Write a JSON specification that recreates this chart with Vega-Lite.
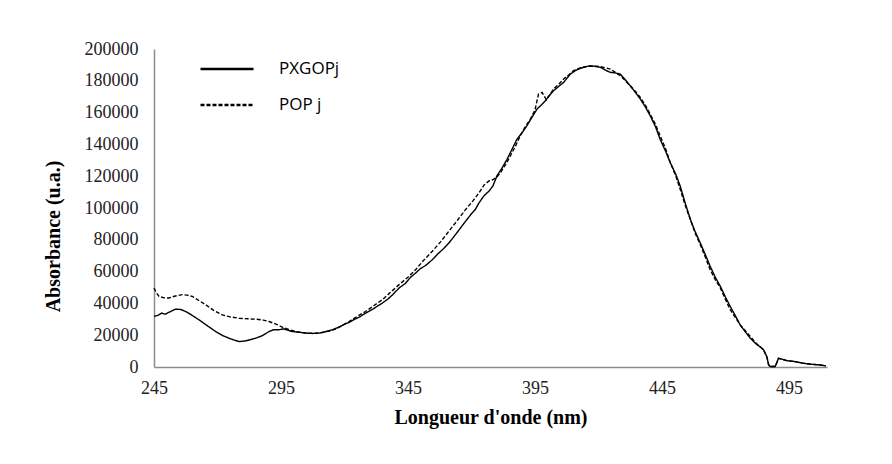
{
  "$schema": "https://vega.github.io/schema/vega-lite/v6.json",
  "width": 673,
  "height": 318,
  "autosize": "none",
  "padding": {"left": 154, "top": 49, "right": 65, "bottom": 97},
  "background": "white",
  "config": {"view": {"stroke": null}},
  "data": {"values": [
    {"w":245,"a":49700,"s":"POP j"},{"w":246,"a":46500,"s":"POP j"},{"w":247,"a":44400,"s":"POP j"},{"w":249,"a":43500,"s":"POP j"},{"w":250.9,"a":43400,"s":"POP j"},{"w":253,"a":44500,"s":"POP j"},{"w":256.2,"a":45500,"s":"POP j"},{"w":258,"a":45200,"s":"POP j"},{"w":260.1,"a":44400,"s":"POP j"},{"w":262.5,"a":42000,"s":"POP j"},{"w":265.3,"a":39200,"s":"POP j"},{"w":268.5,"a":35600,"s":"POP j"},{"w":271.9,"a":32800,"s":"POP j"},{"w":275,"a":31500,"s":"POP j"},{"w":278.5,"a":30700,"s":"POP j"},{"w":282,"a":30300,"s":"POP j"},{"w":285,"a":30100,"s":"POP j"},{"w":288,"a":29500,"s":"POP j"},{"w":290.3,"a":28600,"s":"POP j"},{"w":293,"a":27000,"s":"POP j"},{"w":295.5,"a":25100,"s":"POP j"},{"w":298,"a":23600,"s":"POP j"},{"w":300.8,"a":22300,"s":"POP j"},{"w":303.5,"a":21600,"s":"POP j"},{"w":306,"a":21300,"s":"POP j"},{"w":309,"a":21300,"s":"POP j"},{"w":311.3,"a":21700,"s":"POP j"},{"w":314,"a":22600,"s":"POP j"},{"w":316.5,"a":23800,"s":"POP j"},{"w":319,"a":26000,"s":"POP j"},{"w":321.8,"a":28600,"s":"POP j"},{"w":325,"a":31800,"s":"POP j"},{"w":328.3,"a":34900,"s":"POP j"},{"w":331.5,"a":38500,"s":"POP j"},{"w":334.9,"a":42300,"s":"POP j"},{"w":338,"a":46800,"s":"POP j"},{"w":341.5,"a":51800,"s":"POP j"},{"w":345,"a":56500,"s":"POP j"},{"w":348,"a":61200,"s":"POP j"},{"w":351,"a":66800,"s":"POP j"},{"w":354.6,"a":72800,"s":"POP j"},{"w":358,"a":79000,"s":"POP j"},{"w":361.1,"a":85400,"s":"POP j"},{"w":364.5,"a":92300,"s":"POP j"},{"w":367.7,"a":99100,"s":"POP j"},{"w":370.5,"a":104300,"s":"POP j"},{"w":373,"a":109600,"s":"POP j"},{"w":375,"a":114500,"s":"POP j"},{"w":376.9,"a":117000,"s":"POP j"},{"w":378.7,"a":118000,"s":"POP j"},{"w":380,"a":119500,"s":"POP j"},{"w":381.4,"a":122200,"s":"POP j"},{"w":383.5,"a":127500,"s":"POP j"},{"w":385.3,"a":132700,"s":"POP j"},{"w":387.5,"a":139500,"s":"POP j"},{"w":389.2,"a":145400,"s":"POP j"},{"w":391,"a":150500,"s":"POP j"},{"w":393.2,"a":155900,"s":"POP j"},{"w":395,"a":161500,"s":"POP j"},{"w":396.4,"a":171600,"s":"POP j"},{"w":397.8,"a":172700,"s":"POP j"},{"w":399.5,"a":168100,"s":"POP j"},{"w":401,"a":171500,"s":"POP j"},{"w":402.3,"a":174800,"s":"POP j"},{"w":404.5,"a":178000,"s":"POP j"},{"w":406.3,"a":181100,"s":"POP j"},{"w":408.5,"a":184000,"s":"POP j"},{"w":410.2,"a":186400,"s":"POP j"},{"w":413,"a":188200,"s":"POP j"},{"w":415.5,"a":189100,"s":"POP j"},{"w":418,"a":189200,"s":"POP j"},{"w":420.7,"a":188900,"s":"POP j"},{"w":422.5,"a":188300,"s":"POP j"},{"w":424.7,"a":187400,"s":"POP j"},{"w":426.5,"a":185500,"s":"POP j"},{"w":428.6,"a":183200,"s":"POP j"},{"w":430.5,"a":180200,"s":"POP j"},{"w":432.5,"a":176900,"s":"POP j"},{"w":434.5,"a":173500,"s":"POP j"},{"w":436.5,"a":169500,"s":"POP j"},{"w":438.5,"a":164500,"s":"POP j"},{"w":440.4,"a":159000,"s":"POP j"},{"w":442.5,"a":152500,"s":"POP j"},{"w":444.3,"a":145400,"s":"POP j"},{"w":446.5,"a":137000,"s":"POP j"},{"w":448.3,"a":128500,"s":"POP j"},{"w":450.5,"a":120000,"s":"POP j"},{"w":452.2,"a":111700,"s":"POP j"},{"w":454,"a":102500,"s":"POP j"},{"w":456.2,"a":92800,"s":"POP j"},{"w":458,"a":84500,"s":"POP j"},{"w":460.1,"a":77000,"s":"POP j"},{"w":462,"a":69500,"s":"POP j"},{"w":464,"a":61200,"s":"POP j"},{"w":466,"a":55000,"s":"POP j"},{"w":468,"a":49700,"s":"POP j"},{"w":470,"a":42500,"s":"POP j"},{"w":471.9,"a":36000,"s":"POP j"},{"w":474,"a":31000,"s":"POP j"},{"w":475.8,"a":26500,"s":"POP j"},{"w":478,"a":22500,"s":"POP j"},{"w":479.8,"a":19200,"s":"POP j"},{"w":482,"a":15000,"s":"POP j"},{"w":484,"a":12300,"s":"POP j"},{"w":485,"a":10800,"s":"POP j"},{"w":486.3,"a":6500,"s":"POP j"},{"w":487,"a":1500,"s":"POP j"},{"w":487.6,"a":300,"s":"POP j"},{"w":489.6,"a":300,"s":"POP j"},{"w":490.3,"a":3000,"s":"POP j"},{"w":490.9,"a":5500,"s":"POP j"},{"w":492.5,"a":4800,"s":"POP j"},{"w":494.2,"a":4000,"s":"POP j"},{"w":497,"a":3500,"s":"POP j"},{"w":500.8,"a":2300,"s":"POP j"},{"w":504,"a":1700,"s":"POP j"},{"w":507.3,"a":1300,"s":"POP j"},{"w":509.5,"a":700,"s":"POP j"},
    {"w":245,"a":31800,"s":"PXGOPj"},{"w":246.5,"a":32500,"s":"PXGOPj"},{"w":248,"a":33900,"s":"PXGOPj"},{"w":249.5,"a":33200,"s":"PXGOPj"},{"w":251,"a":34500,"s":"PXGOPj"},{"w":253.5,"a":36400,"s":"PXGOPj"},{"w":255.5,"a":36200,"s":"PXGOPj"},{"w":257.5,"a":34900,"s":"PXGOPj"},{"w":260,"a":32500,"s":"PXGOPj"},{"w":262.7,"a":29700,"s":"PXGOPj"},{"w":265.5,"a":26500,"s":"PXGOPj"},{"w":269.3,"a":22300,"s":"PXGOPj"},{"w":272,"a":19800,"s":"PXGOPj"},{"w":274.5,"a":18100,"s":"PXGOPj"},{"w":277,"a":16700,"s":"PXGOPj"},{"w":278.5,"a":16000,"s":"PXGOPj"},{"w":281,"a":16400,"s":"PXGOPj"},{"w":283,"a":17200,"s":"PXGOPj"},{"w":285,"a":18100,"s":"PXGOPj"},{"w":287.5,"a":19600,"s":"PXGOPj"},{"w":290.3,"a":22300,"s":"PXGOPj"},{"w":292,"a":23400,"s":"PXGOPj"},{"w":294.2,"a":23400,"s":"PXGOPj"},{"w":296,"a":24000,"s":"PXGOPj"},{"w":297.5,"a":23200,"s":"PXGOPj"},{"w":299.5,"a":22300,"s":"PXGOPj"},{"w":302,"a":21900,"s":"PXGOPj"},{"w":304.7,"a":21300,"s":"PXGOPj"},{"w":307.5,"a":21100,"s":"PXGOPj"},{"w":310,"a":21300,"s":"PXGOPj"},{"w":312.5,"a":22200,"s":"PXGOPj"},{"w":315.2,"a":23400,"s":"PXGOPj"},{"w":318,"a":25200,"s":"PXGOPj"},{"w":320,"a":27000,"s":"PXGOPj"},{"w":321.8,"a":28000,"s":"PXGOPj"},{"w":324,"a":30000,"s":"PXGOPj"},{"w":326,"a":31500,"s":"PXGOPj"},{"w":328.3,"a":33900,"s":"PXGOPj"},{"w":331,"a":36200,"s":"PXGOPj"},{"w":333,"a":38300,"s":"PXGOPj"},{"w":334.9,"a":40200,"s":"PXGOPj"},{"w":337,"a":42600,"s":"PXGOPj"},{"w":339,"a":45500,"s":"PXGOPj"},{"w":341.5,"a":49700,"s":"PXGOPj"},{"w":344,"a":52600,"s":"PXGOPj"},{"w":346,"a":56400,"s":"PXGOPj"},{"w":348,"a":59100,"s":"PXGOPj"},{"w":350,"a":62000,"s":"PXGOPj"},{"w":352,"a":63900,"s":"PXGOPj"},{"w":354.6,"a":67500,"s":"PXGOPj"},{"w":357,"a":71500,"s":"PXGOPj"},{"w":359,"a":74400,"s":"PXGOPj"},{"w":361.1,"a":78000,"s":"PXGOPj"},{"w":363,"a":81800,"s":"PXGOPj"},{"w":365,"a":86000,"s":"PXGOPj"},{"w":367.7,"a":91700,"s":"PXGOPj"},{"w":370,"a":96400,"s":"PXGOPj"},{"w":371.5,"a":99000,"s":"PXGOPj"},{"w":373,"a":103300,"s":"PXGOPj"},{"w":375,"a":107800,"s":"PXGOPj"},{"w":376.9,"a":110600,"s":"PXGOPj"},{"w":378.5,"a":114000,"s":"PXGOPj"},{"w":380,"a":120100,"s":"PXGOPj"},{"w":382,"a":125000,"s":"PXGOPj"},{"w":384,"a":130600,"s":"PXGOPj"},{"w":386,"a":137000,"s":"PXGOPj"},{"w":387.9,"a":143200,"s":"PXGOPj"},{"w":390,"a":147500,"s":"PXGOPj"},{"w":391.8,"a":151700,"s":"PXGOPj"},{"w":394,"a":157500,"s":"PXGOPj"},{"w":395.8,"a":162200,"s":"PXGOPj"},{"w":397.5,"a":164800,"s":"PXGOPj"},{"w":399.1,"a":167400,"s":"PXGOPj"},{"w":400.5,"a":170500,"s":"PXGOPj"},{"w":402.3,"a":173700,"s":"PXGOPj"},{"w":404,"a":176000,"s":"PXGOPj"},{"w":406.3,"a":179000,"s":"PXGOPj"},{"w":408.9,"a":184200,"s":"PXGOPj"},{"w":411,"a":186500,"s":"PXGOPj"},{"w":412.8,"a":187800,"s":"PXGOPj"},{"w":415,"a":188800,"s":"PXGOPj"},{"w":416.8,"a":189500,"s":"PXGOPj"},{"w":419,"a":189000,"s":"PXGOPj"},{"w":420.7,"a":188500,"s":"PXGOPj"},{"w":423,"a":186500,"s":"PXGOPj"},{"w":424.7,"a":185300,"s":"PXGOPj"},{"w":426.5,"a":185000,"s":"PXGOPj"},{"w":428.6,"a":184200,"s":"PXGOPj"},{"w":430.5,"a":180800,"s":"PXGOPj"},{"w":432.5,"a":176900,"s":"PXGOPj"},{"w":434.5,"a":172800,"s":"PXGOPj"},{"w":436.5,"a":168500,"s":"PXGOPj"},{"w":438.5,"a":163500,"s":"PXGOPj"},{"w":440.4,"a":158000,"s":"PXGOPj"},{"w":442.5,"a":151000,"s":"PXGOPj"},{"w":444.3,"a":143200,"s":"PXGOPj"},{"w":446.5,"a":135500,"s":"PXGOPj"},{"w":448.3,"a":128500,"s":"PXGOPj"},{"w":450.5,"a":121000,"s":"PXGOPj"},{"w":452.2,"a":113800,"s":"PXGOPj"},{"w":454,"a":104000,"s":"PXGOPj"},{"w":456.2,"a":92800,"s":"PXGOPj"},{"w":458,"a":85500,"s":"PXGOPj"},{"w":460.1,"a":78000,"s":"PXGOPj"},{"w":462,"a":71000,"s":"PXGOPj"},{"w":464,"a":63300,"s":"PXGOPj"},{"w":466,"a":56500,"s":"PXGOPj"},{"w":468,"a":50700,"s":"PXGOPj"},{"w":470,"a":44000,"s":"PXGOPj"},{"w":471.9,"a":38100,"s":"PXGOPj"},{"w":474,"a":32000,"s":"PXGOPj"},{"w":475.8,"a":26500,"s":"PXGOPj"},{"w":478,"a":21800,"s":"PXGOPj"},{"w":479.8,"a":18100,"s":"PXGOPj"},{"w":482,"a":14600,"s":"PXGOPj"},{"w":484,"a":12300,"s":"PXGOPj"},{"w":485,"a":10800,"s":"PXGOPj"},{"w":486.3,"a":6500,"s":"PXGOPj"},{"w":487,"a":1500,"s":"PXGOPj"},{"w":487.6,"a":300,"s":"PXGOPj"},{"w":489.6,"a":300,"s":"PXGOPj"},{"w":490.3,"a":3000,"s":"PXGOPj"},{"w":490.9,"a":5500,"s":"PXGOPj"},{"w":492.5,"a":4800,"s":"PXGOPj"},{"w":494.2,"a":4000,"s":"PXGOPj"},{"w":497,"a":3500,"s":"PXGOPj"},{"w":500.8,"a":2300,"s":"PXGOPj"},{"w":504,"a":1700,"s":"PXGOPj"},{"w":507.3,"a":1300,"s":"PXGOPj"},{"w":509.5,"a":700,"s":"PXGOPj"}
  ]},
  "mark": {"type": "line", "strokeWidth": 1.4, "color": "#000", "interpolate": "linear"},
  "encoding": {
    "x": {
      "field": "w", "type": "quantitative",
      "scale": {"domain": [245, 510], "nice": false, "zero": false},
      "axis": {
        "title": "Longueur d'onde (nm)",
        "values": [245, 295, 345, 395, 445, 495],
        "format": "d",
        "grid": false, "ticks": false,
        "labelFlush": false, "labelOverlap": false,
        "domainColor": "#8c8c8c", "domainWidth": 1.5,
        "labelFont": "Liberation Serif", "labelFontSize": 18, "labelColor": "#222",
        "labelPadding": 12,
        "titleFont": "Liberation Serif", "titleFontWeight": "bold", "titleFontSize": 20, "titleColor": "#000",
        "titlePadding": 10
      }
    },
    "y": {
      "field": "a", "type": "quantitative",
      "scale": {"domain": [0, 200000], "nice": false},
      "axis": {
        "title": "Absorbance (u.a.)",
        "values": [0, 20000, 40000, 60000, 80000, 100000, 120000, 140000, 160000, 180000, 200000],
        "format": "d",
        "grid": false, "ticks": false,
        "labelFlush": false, "labelOverlap": false,
        "domainColor": "#8c8c8c", "domainWidth": 1.5,
        "labelFont": "Liberation Serif", "labelFontSize": 18, "labelColor": "#222",
        "labelPadding": 16,
        "titleFont": "Liberation Serif", "titleFontWeight": "bold", "titleFontSize": 20, "titleColor": "#000",
        "titleX": -91, "titleY": 187, "titleAngle": -90, "titleBaseline": "bottom", "titleAlign": "center"
      }
    },
    "strokeDash": {
      "field": "s", "type": "nominal",
      "scale": {"domain": ["PXGOPj", "POP j"], "range": [[1, 0], [4, 2]]},
      "legend": {
        "title": null,
        "orient": "none",
        "legendX": 45,
        "legendY": -8,
        "symbolType": "stroke",
        "symbolSize": 2809,
        "symbolStrokeWidth": 2.5,
        "symbolStrokeColor": "#000",
        "labelFont": "Open Sans",
        "labelFontSize": 17,
        "labelColor": "#000",
        "labelOffset": 24,
        "rowPadding": -25,
        "padding": 0
      }
    }
  }
}
